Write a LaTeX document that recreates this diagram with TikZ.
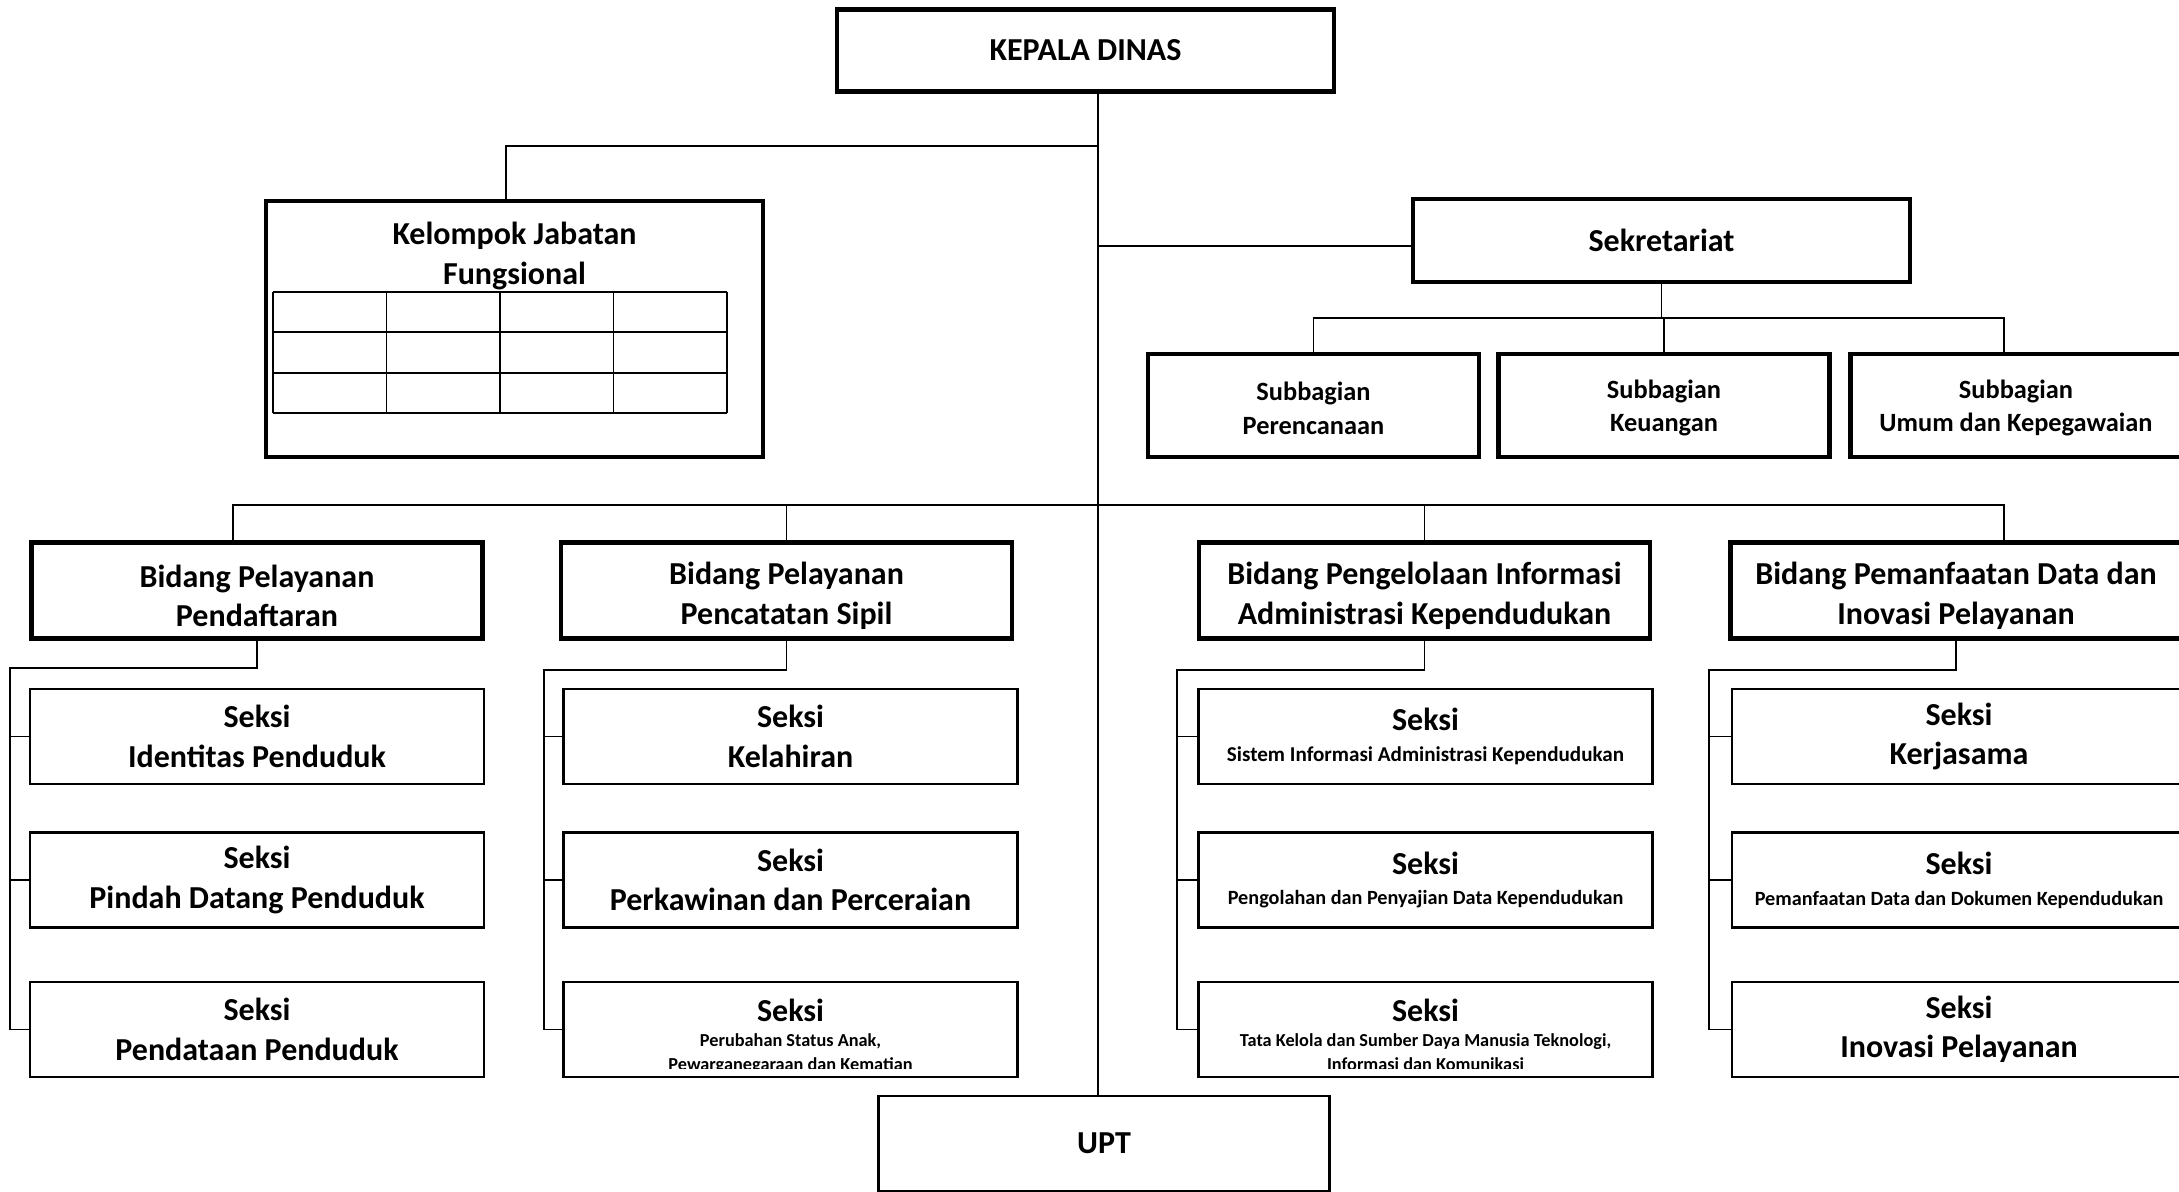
\documentclass[tikz,border=0pt]{standalone}
\usepackage{fontspec}
\setmainfont{Carlito}
\newcommand{\kecil}{\fontsize{6}{7.2}\selectfont}
\newcommand{\kecilc}{\fontsize{5.75}{6.9}\selectfont}
\newcommand{\kecilb}{\fontsize{5.2}{6.3}\selectfont}
\tikzset{
  kepala/.style={draw, line width=1.3pt, inner sep=0pt, align=center, font=\bfseries\fontsize{9.1}{11.2}\selectfont},
  bidang/.style={kepala, minimum width=4.51cm, minimum height=0.96cm},
  subbag/.style={kepala, minimum width=3.31cm, minimum height=1.03cm, font=\bfseries\fontsize{7.5}{9.4}\selectfont},
  seksi/.style={draw, line width=0.7pt, inner sep=0pt, align=center, minimum width=4.54cm, minimum height=0.95cm, font=\bfseries\fontsize{9.1}{11.2}\selectfont},
  teks/.style={inner sep=0pt, align=center, font=\bfseries\fontsize{9.1}{11.2}\selectfont},
  garis/.style={line width=0.45pt},
}

\begin{document}
\begin{tikzpicture}[x=0.01cm, y=-0.01cm]
\useasboundingbox (0,0) rectangle (2179,1192);
\clip (0,0) rectangle (2179,1192);

\node[kepala, minimum width=4.97cm, minimum height=0.82cm] (kd) at (1085.5,50.5) {KEPALA DINAS};
\node[kepala, minimum width=4.97cm, minimum height=2.56cm] (kjf) at (514.5,329) {};
\node[teks] (kjft) at (514.5,256) {Kelompok Jabatan\\Fungsional};
\foreach \i in {0,...,4}
  \draw[line width=0.55pt] (273+113.5*\i,292) -- (273+113.5*\i,413);
\foreach \j in {0,...,3}
  \draw[line width=0.55pt] (273,292+40.33*\j) -- (727,292+40.33*\j);
\node[kepala, minimum width=4.97cm, minimum height=0.83cm] (sek) at (1661.5,240.5) {Sekretariat};

\node[subbag] (sub1) at (1313.5,405.5) {\\[-2.5pt]Subbagian\\Perencanaan};
\node[subbag] (sub2) at (1664,405.5) {\\[-2.5pt]Subbagian\\Keuangan};
\node[subbag] (sub3) at (2016,405.5) {\\[-2.5pt]Subbagian\\Umum dan Kepegawaian};

\node[bidang] (b1) at (257,590.5) {\\[-1.9pt]Bidang Pelayanan\\Pendaftaran};
\node[bidang] (b2) at (786.5,590.5) {\\[-1.9pt]Bidang Pelayanan\\Pencatatan Sipil};
\node[bidang] (b3) at (1424.5,590.5) {\\[-1.9pt]Bidang Pengelolaan Informasi\\Administrasi Kependudukan};
\node[bidang] (b4) at (1956,590.5) {\\[-1.9pt]Bidang Pemanfaatan Data dan\\Inovasi Pelayanan};

\node[seksi] (s11) at (257,736.5) {Seksi\\Identitas Penduduk};
\node[seksi] (s12) at (257,880) {Seksi\\Pindah Datang Penduduk};
\node[seksi] (s13) at (257,1029.5) {Seksi\\Pendataan Penduduk};

\node[seksi] (s21) at (790.5,736.5) {Seksi\\Kelahiran};
\node[seksi] (s22) at (790.5,880) {Seksi\\Perkawinan dan Perceraian};
\begin{scope}
  \clip (565,983) rectangle (1016,1068);
  \node[teks, anchor=north] (s23t) at (790.5,998) {Seksi\\[-4.1pt]{\kecilb Perubahan Status Anak,}\\[-4.2pt]{\kecilb Pewarganegaraan dan Kematian}};
\end{scope}
\node[seksi] (s23) at (790.5,1029.5) {};

\node[seksi] (s31) at (1425.5,736.5) {Seksi\\[-2.4pt]{\kecil Sistem Informasi Administrasi Kependudukan}};
\node[seksi] (s32) at (1425.5,880) {Seksi\\[-2.4pt]{\kecilc Pengolahan dan Penyajian Data Kependudukan}};
\begin{scope}
  \clip (1200,983) rectangle (1651,1068);
  \node[teks, anchor=north] (s33t) at (1425.5,998) {Seksi\\[-4.1pt]{\kecilb Tata Kelola dan Sumber Daya Manusia Teknologi,}\\[-4.2pt]{\kecilb Informasi dan Komunikasi}};
\end{scope}
\node[seksi] (s33) at (1425.5,1029.5) {};

\node[seksi] (s41) at (1959,736.5) {Seksi\\Kerjasama};
\node[seksi] (s42) at (1959,880) {Seksi\\[-2.4pt]{\kecilc Pemanfaatan Data dan Dokumen Kependudukan}};
\node[seksi] (s43) at (1959,1029.5) {Seksi\\Inovasi Pelayanan};

\node[seksi, line width=0.75pt, minimum width=4.51cm] (upt) at (1104,1143.5) {UPT};

\coordinate (pusat) at (1098,146);
\coordinate (kjfa) at (506,146);
\coordinate (subka) at (2004,318);
\coordinate (bki) at (233,505);
\coordinate (bka) at (2004,505);
\coordinate (k1) at (10,668);
\coordinate (k2) at (544,670);
\coordinate (k3) at (1177,670);
\coordinate (k4) at (1709,670);

\draw[garis] (kd.south -| pusat) -- (upt.north -| pusat);
\draw[garis] (pusat) -- (kjfa) -- (kjfa |- kjf.north);
\draw[garis] ([yshift=-1.5pt]sek.west) -- ([yshift=-1.5pt]sek.west -| pusat);
\draw[garis] (sek.south) -- (sek.south |- subka);
\draw[garis] (sub1.north) |- (subka) -- (subka |- sub3.north);
\draw[garis] (sub2.north) -- (sub2.north |- subka);
\draw[garis] (bki |- b1.north) -- (bki) -- (bka) -- (bka |- b4.north);
\draw[garis] (b2.north) -- (b2.north |- bki);
\draw[garis] (b3.north) -- (b3.north |- bki);
\foreach \i in {1,2,3,4} {
  \draw[garis] (b\i.south) |- (k\i) -- (k\i |- s\i3.west) -- (s\i3.west);
  \draw[garis] (s\i1.west) -- (s\i1.west -| k\i);
  \draw[garis] (s\i2.west) -- (s\i2.west -| k\i);
}
\end{tikzpicture}
\end{document}
